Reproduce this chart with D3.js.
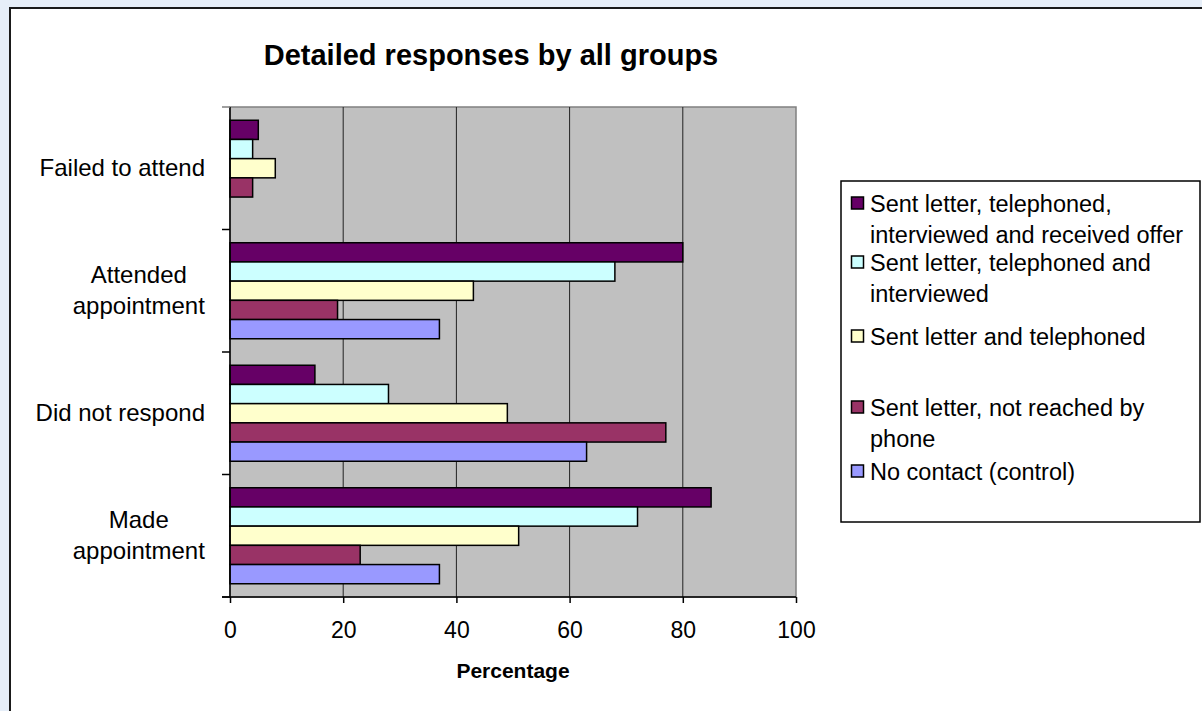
<!DOCTYPE html>
<html>
<head>
<meta charset="utf-8">
<script src="https://cdn.jsdelivr.net/npm/d3@7"></script>
<style>
  body { margin: 0; background: #dbe7f4; }
  text { font-family: "Liberation Sans", Arial, sans-serif; fill: #000; }
</style>
</head>
<body>
<div id="chart"></div>
<script>
// categories top to bottom
const categories = ["Failed to attend", "Attended appointment", "Did not respond", "Made appointment"];
const catLines = [["Failed to attend"], ["Attended", "appointment"], ["Did not respond"], ["Made", "appointment"]];

// series top to bottom inside each group
const seriesNames = [
  "Sent letter, telephoned, interviewed and received offer",
  "Sent letter, telephoned and interviewed",
  "Sent letter and telephoned",
  "Sent letter, not reached by phone",
  "No contact (control)"
];
const legendLines = [
  ["Sent letter, telephoned,", "interviewed and received offer"],
  ["Sent letter, telephoned and", "interviewed"],
  ["Sent letter and telephoned"],
  ["Sent letter, not reached by", "phone"],
  ["No contact (control)"]
];
const colors = ["#660066", "#ccffff", "#ffffcc", "#993366", "#9999ff"];

// values per series, in category order
const offerVals     = [5, 80, 15, 85];
const interviewVals = [4, 68, 28, 72];
const phonedVals    = [8, 43, 49, 51];
const notReachVals  = [4, 19, 77, 23];
const controlVals   = [0, 37, 63, 37];
const seriesVals = [offerVals, interviewVals, phonedVals, notReachVals, controlVals];

const xTicks = [0, 20, 40, 60, 80, 100];

const W = 1202, H = 711;
const pLeft = 230, pRight = 796, pTop = 107, pBottom = 597;

const svg = d3.select("#chart").append("svg")
    .attr("width", W)
    .attr("height", H)
    .style("display", "block");

// mottled blue page background
let defs = svg.append("defs");
let f = defs.append("filter").attr("id", "mottle")
    .attr("x", 0).attr("y", 0).attr("width", 1).attr("height", 1);
f.append("feTurbulence")
    .attr("type", "fractalNoise")
    .attr("baseFrequency", 0.035)
    .attr("numOctaves", 3)
    .attr("seed", 4)
    .attr("result", "n");
f.append("feColorMatrix")
    .attr("in", "n")
    .attr("type", "matrix")
    .attr("values", "0 0 0 0 0.80  0 0 0 0 0.87  0 0 0 0 0.95  0.6 0 0 0 -0.15")
    .attr("result", "c");
f.append("feComposite").attr("in", "c").attr("in2", "SourceGraphic").attr("operator", "over");

svg.append("rect")
    .attr("width", W).attr("height", H)
    .attr("fill", "#e6eef8")
    .attr("filter", "url(#mottle)");

// outer frame
svg.append("rect")
    .attr("x", 10).attr("y", 8)
    .attr("width", W + 20).attr("height", H + 20)
    .attr("fill", "#fff")
    .attr("stroke", "#1a1a1a")
    .attr("stroke-width", 2);

let x = d3.scaleLinear().domain([0, 100]).range([pLeft, pRight]);
let y = d3.scaleBand().domain(categories).range([pTop, pBottom]);
let yIn = d3.scaleBand().domain(d3.range(seriesNames.length))
    .range([0, y.bandwidth()]).paddingOuter(0.69);

// plot area
svg.append("rect")
    .attr("x", pLeft).attr("y", pTop)
    .attr("width", pRight - pLeft).attr("height", pBottom - pTop)
    .attr("fill", "#c0c0c0")
    .attr("stroke", "#808080")
    .attr("stroke-width", 1.5);

// gridlines
svg.append("g").selectAll("line")
    .data(xTicks.slice(1, -1))
    .enter().append("line")
    .attr("x1", (d) => x(d)).attr("x2", (d) => x(d))
    .attr("y1", pTop).attr("y2", pBottom)
    .attr("stroke", "#222")
    .attr("stroke-width", 1);

// bars
let rows = [];
categories.forEach((c, ci) => {
  seriesVals.forEach((vals, si) => {
    rows.push({ cat: c, s: si, v: vals[ci] });
  });
});

svg.append("g").selectAll("rect")
    .data(rows.filter((d) => d.v > 0))
    .enter().append("rect")
    .attr("x", x(0))
    .attr("y", (d) => y(d.cat) + yIn(d.s))
    .attr("width", (d) => x(d.v) - x(0))
    .attr("height", yIn.bandwidth())
    .attr("fill", (d) => colors[d.s])
    .attr("stroke", "#000")
    .attr("stroke-width", 1.5);

// x axis
let xAxis = svg.append("g")
    .attr("transform", `translate(0, ${ pBottom })`)
    .call(d3.axisBottom(x).tickValues(xTicks).tickSize(6).tickPadding(19));
xAxis.select(".domain").attr("stroke", "#000").attr("stroke-width", 1.5)
    .attr("d", `M${ pLeft - 8 },0H${ pRight }`);
xAxis.selectAll(".tick line").attr("stroke", "#000").attr("stroke-width", 1.5);
xAxis.selectAll("text")
    .attr("font-size", 23)
    .attr("font-family", "Liberation Sans, Arial, sans-serif")
    .attr("fill", "#000");

// y axis
let bounds = categories.map((c) => y(c)).concat([pBottom]);
svg.append("line")
    .attr("x1", pLeft).attr("x2", pLeft)
    .attr("y1", pTop).attr("y2", pBottom)
    .attr("stroke", "#000").attr("stroke-width", 1.5);
svg.append("g").selectAll("line")
    .data(bounds)
    .enter().append("line")
    .attr("x1", pLeft - 8).attr("x2", pLeft)
    .attr("y1", (d) => d).attr("y2", (d) => d)
    .attr("stroke", (d, i) => i === 0 ? "#808080" : "#000")
    .attr("stroke-width", 1.5);

// category labels
const labelRight = 205, lineH = 31;
categories.forEach((c, i) => {
  let lines = catLines[i];
  let cy = y(c) + y.bandwidth() / 2;
  let t = svg.append("text")
      .attr("font-size", 24)
      .attr("text-anchor", "middle");
  lines.forEach((l, k) => {
    t.append("tspan")
        .attr("x", 0)
        .attr("y", cy + 8 + (k - (lines.length - 1) / 2) * lineH)
        .text(l);
  });
  let w = t.node().getBBox().width;
  t.attr("transform", `translate(${ labelRight - w / 2 }, 0)`);
});

// title
svg.append("text")
    .attr("x", 491).attr("y", 65)
    .attr("text-anchor", "middle")
    .attr("font-size", 29)
    .attr("font-weight", "bold")
    .text("Detailed responses by all groups");

// axis title
svg.append("text")
    .attr("x", 513).attr("y", 678)
    .attr("text-anchor", "middle")
    .attr("font-size", 21)
    .attr("font-weight", "bold")
    .text("Percentage");

// legend
let lg = svg.append("g");
lg.append("rect")
    .attr("x", 841).attr("y", 181)
    .attr("width", 359).attr("height", 341)
    .attr("fill", "#fff")
    .attr("stroke", "#000")
    .attr("stroke-width", 1.5);

const legendY = [212, 271, 345, 416, 480];
legendLines.forEach((lines, i) => {
  lg.append("rect")
      .attr("x", 851.5).attr("y", legendY[i] - 15)
      .attr("width", 12).attr("height", 12)
      .attr("fill", colors[i])
      .attr("stroke", "#000")
      .attr("stroke-width", 1.5);
  let t = lg.append("text").attr("font-size", 23.5);
  lines.forEach((l, k) => {
    t.append("tspan")
        .attr("x", 870)
        .attr("y", legendY[i] + k * 31)
        .text(l);
  });
});
</script>
</body>
</html>
